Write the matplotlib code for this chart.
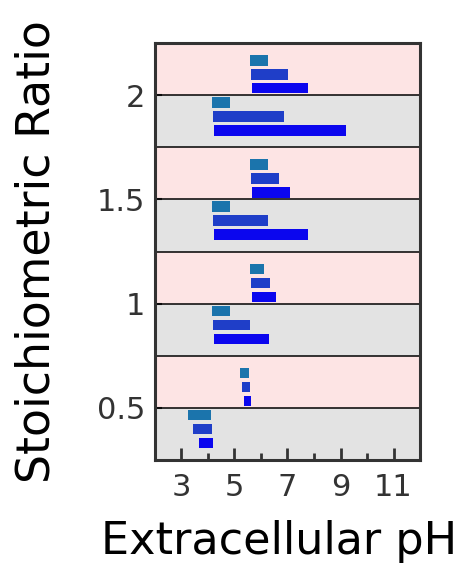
import matplotlib.pyplot as plt
import numpy as np

# stoichiometric ratios on the y axis
ratios = [0.5, 1.0, 1.5, 2.0]

# pH ranges (start, end) for each ratio, upper (pink) band
upper_teal = [(5.19, 5.55), (5.59, 6.11), (5.59, 6.25), (5.59, 6.28)]
upper_mid = [(5.27, 5.59), (5.62, 6.34), (5.62, 6.67), (5.62, 7.03)]
upper_blue = [(5.36, 5.64), (5.67, 6.56), (5.67, 7.11), (5.67, 7.77)]

# pH ranges (start, end) for each ratio, lower (gray) band
lower_teal = [(3.26, 4.10), (4.15, 4.84), (4.15, 4.84), (4.15, 4.84)]
lower_mid = [(3.44, 4.15), (4.19, 5.59), (4.19, 6.28), (4.19, 6.85)]
lower_blue = [(3.66, 4.19), (4.22, 6.32), (4.22, 7.77), (4.22, 9.19)]

colors = ['#1b74ac', '#1f3ec8', '#0b06ee']
pink = '#fde4e4'
gray = '#e3e3e3'
dark = '#333333'


def draw_ranges(ax, ranges, offset, color):
    r = np.array(ranges)
    y = np.array(ratios) + offset
    ax.barh(y, r[:, 1] - r[:, 0], left=r[:, 0], height=0.05,
            color=color, edgecolor='none', zorder=3)


fig = plt.figure(figsize=(4.66, 5.63), dpi=100)
ax = fig.add_axes([0.3326, 0.1829, 0.5687, 0.7407])

ax.set_xlim(2, 12)
ax.set_ylim(0.25, 2.25)

# alternating bands: pink above each ratio, gray below
for r in ratios:
    ax.axhspan(r, r + 0.25, color=pink, zorder=0, lw=0)
    ax.axhspan(r - 0.25, r, color=gray, zorder=0, lw=0)
for y in np.arange(0.5, 2.01, 0.25):
    ax.axhline(y, color='black', lw=1.1, zorder=2)

draw_ranges(ax, upper_teal, 0.167, colors[0])
draw_ranges(ax, upper_mid, 0.100, colors[1])
draw_ranges(ax, upper_blue, 0.033, colors[2])
draw_ranges(ax, lower_teal, -0.035, colors[0])
draw_ranges(ax, lower_mid, -0.102, colors[1])
draw_ranges(ax, lower_blue, -0.169, colors[2])

ax.set_xticks([3, 5, 7, 9, 11])
ax.set_xticks([4, 6, 8, 10], minor=True)
ax.set_yticks(ratios)
ax.set_yticklabels(['0.5', '1', '1.5', '2'])

ax.tick_params(axis='x', which='major', direction='in', length=9, width=2,
               color=dark, labelsize=22, labelcolor=dark, pad=9)
ax.tick_params(axis='x', which='minor', direction='in', length=5, width=2,
               color=dark)
ax.tick_params(axis='y', direction='in', length=5, width=1.5, color=dark,
               labelsize=22, labelcolor=dark, pad=7)

for s in ax.spines.values():
    s.set_linewidth(2.2)
    s.set_color(dark)
    s.set_zorder(5)

ax.set_xlabel('Extracellular pH', fontsize=32, va='top')
ax.xaxis.set_label_coords(0.47, -0.143)
ax.set_ylabel('Stoichiometric Ratio', fontsize=33)
ax.yaxis.set_label_coords(-0.36, 0.5)

fig.savefig('out.png', dpi=100)
